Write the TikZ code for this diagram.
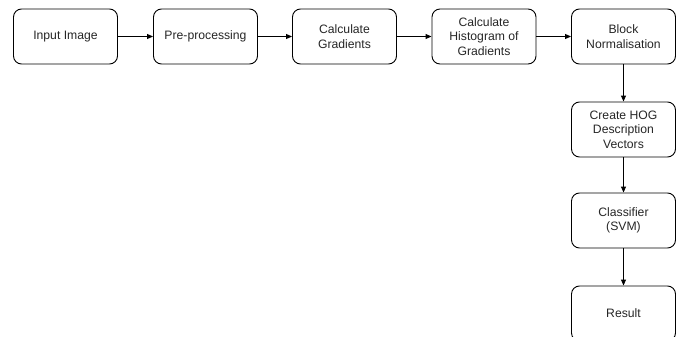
\documentclass[tikz,border=0pt]{standalone}
\usepackage{fontspec}
\setmainfont{Liberation Sans}
\usetikzlibrary{arrows.meta}
\begin{document}
\begin{tikzpicture}[x=1pt,y=-1pt,
  stepbox/.style={draw=black,line width=0.9pt,rounded corners=8pt,minimum width=104pt,minimum height=55pt,align=center,inner sep=2pt,font=\fontsize{12.2}{14.3}\selectfont,text=black!85},
  conn/.style={draw=black,line width=0.9pt,-{Triangle[length=6pt,width=5pt]}}]
\useasboundingbox (0,0) rectangle (680,337);
\clip (0,0) rectangle (680,337);
\node[stepbox] (a) at (65.5,36.5) {Input Image};
\node[stepbox] (b) at (205.5,36.5) {Pre-processing};
\node[stepbox] (c) at (344.5,36.5) {Calculate\\Gradients};
\node[stepbox] (d) at (484,36.5) {Calculate\\Histogram of\\Gradients};
\node[stepbox] (e) at (623.5,36.5) {Block\\Normalisation};
\node[stepbox] (f) at (623.5,129.5) {Create HOG\\Description\\Vectors};
\node[stepbox] (g) at (623.5,220.5) {Classifier\\(SVM)};
\node[stepbox] (h) at (623.5,313.5) {Result};
\draw[conn] (a) -- (b);
\draw[conn] (b) -- (c);
\draw[conn] (c) -- (d);
\draw[conn] (d) -- (e);
\draw[conn] (e) -- (f);
\draw[conn] (f) -- (g);
\draw[conn] (g) -- (h);
\end{tikzpicture}
\end{document}
